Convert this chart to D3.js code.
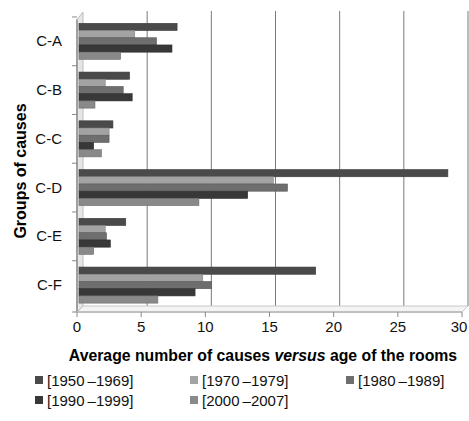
<!DOCTYPE html>
<html><head><meta charset="utf-8">
<script src="https://cdn.jsdelivr.net/npm/d3@7"></script>
<style>body{margin:0;background:#fff}svg{display:block}</style>
</head><body>
<svg id="c" width="469" height="421"></svg>
<script>
const categories = ["C-A","C-B","C-C","C-D","C-E","C-F"];
const seriesNames = ["[1950\u2009\u20131969]","[1970\u2009\u20131979]","[1980\u2009\u20131989]","[1990\u2009\u20131999]","[2000\u2009\u20132007]"];
const s1950 = [7.8, 4.1, 2.8, 28.9, 3.8, 18.6];
const s1970 = [4.5, 2.2, 2.5, 15.3, 2.2, 9.8];
const s1980 = [6.2, 3.6, 2.5, 16.4, 2.3, 10.5];
const s1990 = [7.4, 4.3, 1.3, 13.3, 2.6, 9.2];
const s2000 = [3.4, 1.4, 1.9, 9.5, 1.3, 6.3];
const xTicks = [0,5,10,15,20,25,30];
const colors = ["#4a4a4a","#a3a3a3","#6e6e6e","#383838","#898989"];
const series = [s1950,s1970,s1980,s1990,s2000];

const svg = d3.select("#c");
const font = "Liberation Sans, Arial, sans-serif";
const x = d3.scaleLinear().domain([0,30]).range([77,462]);
const y = d3.scaleBand().domain(categories).range([19.5,312]).paddingInner(0.26).paddingOuter(0.13).align(0.3);
const yIn = d3.scaleBand().domain(d3.range(5)).range([0,y.bandwidth()]);
const dx = 6, dy = 6;
const yb = 312;

const g = svg.append("g");
xTicks.forEach(t => {
  if (t === 0) return;
  g.append("line").attr("x1",x(t)+dx).attr("x2",x(t)+dx).attr("y1",11).attr("y2",yb-dy)
    .attr("stroke","#7a7a7a").attr("stroke-width",1);
  g.append("line").attr("x1",x(t)+dx).attr("x2",x(t)).attr("y1",yb-dy).attr("y2",yb)
    .attr("stroke","#9a9a9a").attr("stroke-width",1);
});
g.append("polygon").attr("points",`${x(0)},${yb} ${x(30)},${yb} ${x(30)+dx},${yb-dy} ${x(0)+dx},${yb-dy}`)
  .attr("fill","#f4f4f4").attr("stroke","#c8c8c8");
g.append("polygon").attr("points",`${x(0)},19.5 ${x(0)+dx},12 ${x(0)+dx},${yb-dy} ${x(0)},${yb}`)
  .attr("fill","#e6e6e6").attr("stroke","#bdbdbd");
g.append("line").attr("x1",x(0)).attr("x2",x(0)).attr("y1",19.5).attr("y2",yb).attr("stroke","#a0a0a0").attr("stroke-width",2);
g.append("line").attr("x1",x(0)).attr("x2",x(30)).attr("y1",yb).attr("y2",yb).attr("stroke","#c0c0c0").attr("stroke-width",2);

const yTickPos = categories.map(c => y(c) - y.step()*y.paddingInner()*0.5);
yTickPos.concat([yb]).forEach(p => {
  g.append("line").attr("x1",x(0)-5).attr("x2",x(0)).attr("y1",p).attr("y2",p).attr("stroke","#8a8a8a");
});
xTicks.forEach(t => {
  g.append("line").attr("x1",x(t)).attr("x2",x(t)).attr("y1",yb).attr("y2",yb+5).attr("stroke","#8a8a8a");
});

series.forEach((s,i) => {
  svg.append("g").selectAll("rect").data(s).join("rect")
    .attr("x", x(0)+2)
    .attr("y", (d,j) => y(categories[j]) + yIn(i))
    .attr("width", d => x(d) - x(0) - 2)
    .attr("height", yIn.bandwidth())
    .attr("fill", colors[i])
    .attr("stroke", d3.color(colors[i]).darker(0.6))
    .attr("stroke-width", 0.6);
});

svg.append("g").selectAll("text").data(xTicks).join("text")
  .attr("x", d => x(d) - (d === 30 ? 3 : 0)).attr("y", 332).attr("text-anchor","middle")
  .attr("font-family",font).attr("font-size",15).attr("fill","#111").text(d=>d);
svg.append("g").selectAll("text").data(categories).join("text")
  .attr("x", 62).attr("y", d => y(d)+y.bandwidth()/2+5).attr("text-anchor","end")
  .attr("font-family",font).attr("font-size",15).attr("fill","#111").text(d=>d);

const xt = svg.append("text").attr("x",263).attr("y",361).attr("text-anchor","middle")
  .attr("font-family",font).attr("font-size",15.8).attr("font-weight","bold").attr("fill","#000");
xt.append("tspan").text("Average number of causes ");
xt.append("tspan").attr("font-style","italic").text("versus");
xt.append("tspan").text(" age of the rooms");
svg.append("text").attr("transform","translate(26,171) rotate(-90)").attr("text-anchor","middle")
  .attr("font-family",font).attr("font-size",16).attr("font-weight","bold").attr("fill","#000")
  .text("Groups of causes");

const legPos = [[35,380],[190,380],[346,380],[35,400],[190,400]];
seriesNames.forEach((n,i) => {
  const [lx,ly] = legPos[i];
  svg.append("rect").attr("x",lx).attr("y",ly-4).attr("width",8).attr("height",8).attr("fill",colors[i]);
  svg.append("text").attr("x",lx+12).attr("y",ly+5.5).attr("font-family",font).attr("font-size",15)
    .attr("fill","#111").text(n);
});
</script>
</body></html>
